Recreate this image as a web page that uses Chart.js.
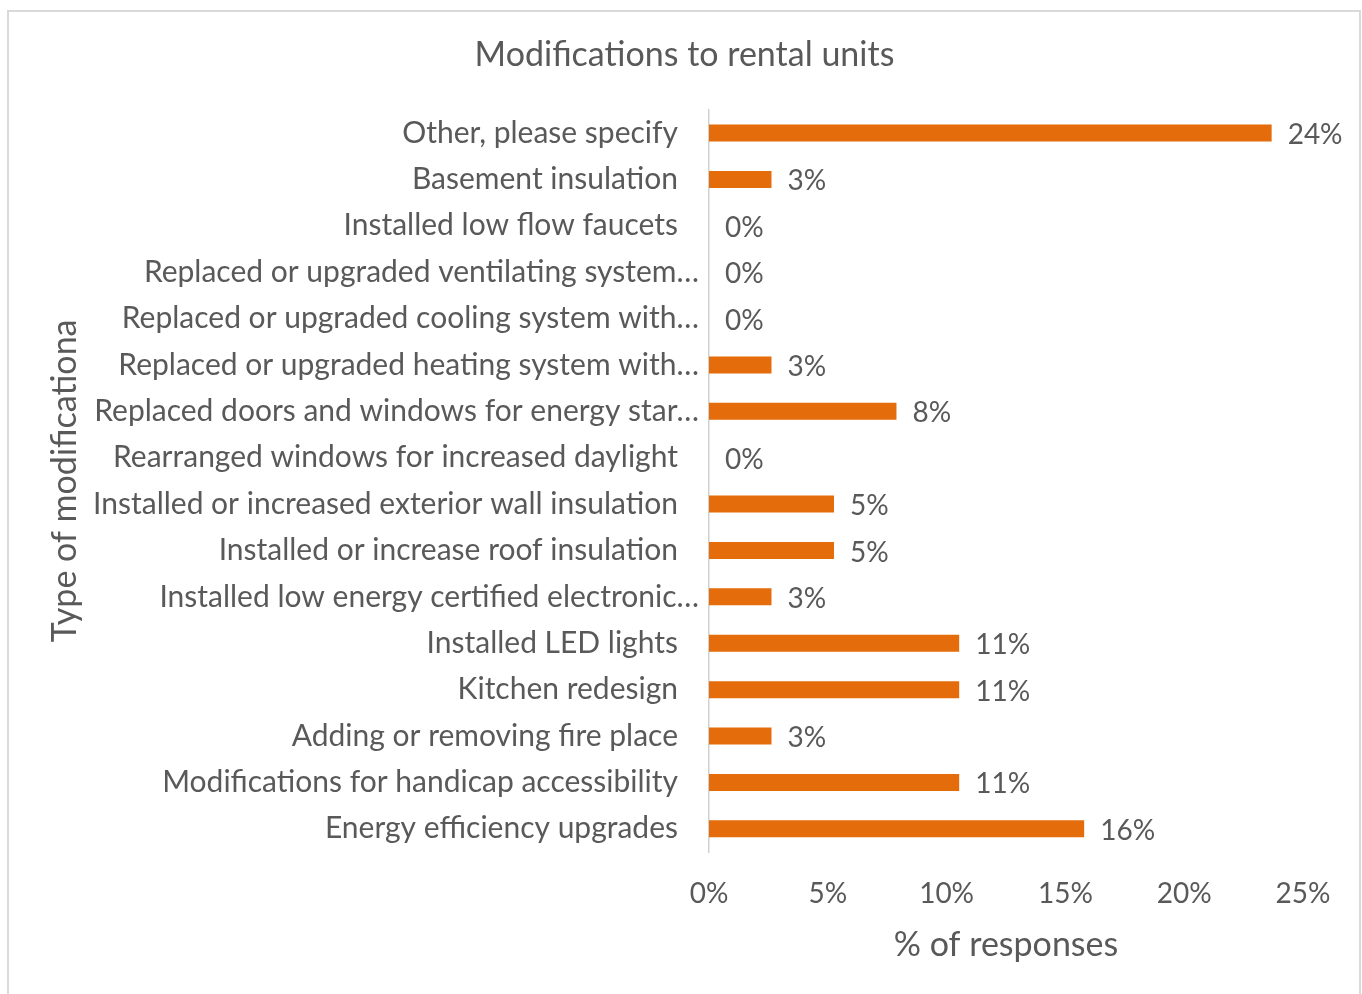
<!DOCTYPE html>
<html>
<head>
<meta charset="utf-8">
<script src="https://cdn.jsdelivr.net/npm/chart.js@4"></script>
<style>
  html, body { margin: 0; padding: 0; background: #fff; }
  #wrap { position: absolute; left: 0; top: 0; width: 1362px; height: 994px; }
</style>
</head>
<body>
<div id="wrap"><canvas id="modChart" width="1362" height="994"></canvas></div>
<script>
// categories, top to bottom as shown
const categories = [
  'Other, please specify',
  'Basement insulation',
  'Installed low flow faucets',
  'Replaced or upgraded ventilating system…',
  'Replaced or upgraded cooling system with…',
  'Replaced or upgraded heating system with…',
  'Replaced doors and windows for energy star…',
  'Rearranged windows for increased daylight',
  'Installed or increased exterior wall insulation',
  'Installed or increase roof insulation',
  'Installed low energy certified electronic…',
  'Installed LED lights',
  'Kitchen redesign',
  'Adding or removing fire place',
  'Modifications for handicap accessibility',
  'Energy efficiency upgrades'
];

// % of responses
const responses = [23.68, 2.63, 0, 0, 0, 2.63, 7.89, 0, 5.26, 5.26, 2.63, 10.53, 10.53, 2.63, 10.53, 15.79];

const xTicks = [0, 5, 10, 15, 20, 25];

const textColor = '#595959';
const fontFamily = 'Lato, "Open Sans", sans-serif';

// light frame round the whole chart
const framePlugin = {
  id: 'frame',
  beforeDraw(chart) {
    const ctx = chart.ctx;
    ctx.save();
    ctx.fillStyle = '#fff';
    ctx.fillRect(0, 0, chart.width, chart.height);
    ctx.strokeStyle = '#d9d9d9';
    ctx.lineWidth = 2;
    ctx.strokeRect(8, 11, 1352, 1000);
    ctx.restore();
  }
};

// category labels; the cut-off ones sit closer to the axis, as in Excel
const categoryLabels = {
  id: 'categoryLabels',
  afterDraw(chart) {
    const ctx = chart.ctx;
    const yScale = chart.scales.y;
    const left = chart.chartArea.left;
    ctx.save();
    ctx.font = '30px ' + fontFamily;
    ctx.fillStyle = textColor;
    ctx.textAlign = 'right';
    ctx.textBaseline = 'middle';
    categories.forEach((label, i) => {
      const cut = label.endsWith('…');
      ctx.fillText(label, left - (cut ? 10 : 31), yScale.getPixelForValue(i));
    });
    ctx.restore();
  }
};

// value labels at the end of each bar
const valueLabels = {
  id: 'valueLabels',
  afterDatasetsDraw(chart) {
    const ctx = chart.ctx;
    const meta = chart.getDatasetMeta(0);
    ctx.save();
    ctx.font = '28px ' + fontFamily;
    ctx.fillStyle = textColor;
    ctx.textAlign = 'left';
    ctx.textBaseline = 'middle';
    meta.data.forEach((bar, i) => {
      ctx.fillText(Math.round(responses[i]) + '%', bar.x + 16, bar.y + 2);
    });
    ctx.restore();
  }
};

new Chart(document.getElementById('modChart'), {
  type: 'bar',
  data: {
    labels: categories,
    datasets: [{
      data: responses,
      backgroundColor: '#E46C0A',
      barThickness: 17,
      inflateAmount: 0
    }]
  },
  options: {
    indexAxis: 'y',
    responsive: false,
    animation: false,
    layout: { padding: { top: 20, left: 40, right: 33, bottom: 29 } },
    plugins: {
      legend: { display: false },
      tooltip: { enabled: false },
      title: {
        display: true,
        text: 'Modifications to rental units',
        color: textColor,
        font: { family: fontFamily, size: 34, weight: 'normal' },
        padding: { top: 15, bottom: 34 }
      }
    },
    scales: {
      x: {
        min: 0,
        max: 25,
        afterBuildTicks(scale) {
          scale.ticks = xTicks.map(v => ({ value: v }));
        },
        afterFit(scale) { scale.height = 113; },
        grid: { display: false, drawTicks: false },
        border: { display: false },
        ticks: {
          color: textColor,
          font: { family: fontFamily, size: 28 },
          padding: 25,
          callback: v => v + '%'
        },
        title: {
          display: true,
          text: '% of responses',
          color: textColor,
          font: { family: fontFamily, size: 34 },
          padding: { top: 0, bottom: 0 }
        }
      },
      y: {
        afterFit(scale) { scale.width = 669; },
        grid: { display: false, drawTicks: false },
        border: { display: true, color: '#d0d0d0', width: 1.5 },
        ticks: { display: false },
        title: {
          display: true,
          text: 'Type of modificationa',
          color: textColor,
          font: { family: fontFamily, size: 34 },
          padding: { top: 5, bottom: 0 }
        }
      },
      // empty spacer on the right so the title centres on the page
      spacer: {
        type: 'linear',
        position: 'right',
        afterFit(scale) { scale.width = 26; },
        grid: { display: false, drawTicks: false },
        border: { display: false },
        ticks: { display: false }
      }
    }
  },
  plugins: [framePlugin, categoryLabels, valueLabels]
});
</script>
</body>
</html>
